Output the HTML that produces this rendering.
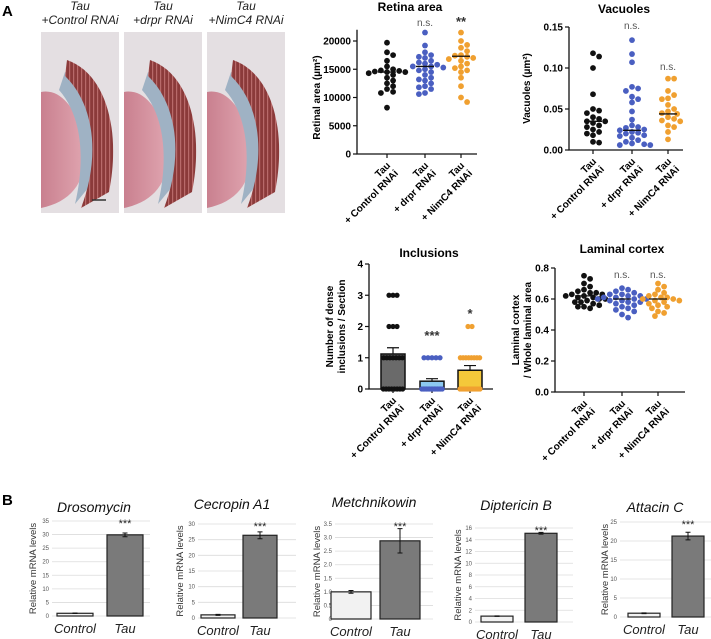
<!DOCTYPE html>
<html><head><meta charset="utf-8">
<style>
html,body{margin:0;padding:0;background:#fff;}
svg{display:block;font-family:"Liberation Sans",Arial,sans-serif;}
</style></head>
<body>
<svg id="fig" width="711" height="639" viewBox="0 0 711 639" xmlns="http://www.w3.org/2000/svg">
<defs>
<linearGradient id="pink" x1="0" x2="1"><stop offset="0" stop-color="#c9808f"/><stop offset="1" stop-color="#e0a5b0"/></linearGradient>
<pattern id="stripes" width="4" height="4" patternUnits="userSpaceOnUse"><rect width="4" height="4" fill="#8b3a3a"/><rect width="1.2" height="4" fill="#b86a6a"/></pattern>
</defs>
<text x="2" y="16" font-size="15" font-weight="bold">A</text>
<text x="2" y="505" font-size="15" font-weight="bold">B</text>
<g id="photos"></g>
<g id="charts"></g>
</svg>
<script>
// ---- data ----
const groupsA = ["Control RNAi", "drpr RNAi", "NimC4 RNAi"];
const colorsA = ["#111111", "#4a5fc1", "#f0a030"];
const retinaCtrl = [19700,18000,17500,16500,15500,15000,14800,14700,14600,14500,14500,14300,14000,13500,13000,12500,12000,11500,11000,10800,8200];
const retinaDrpr = [21500,19200,18000,17500,17200,17000,16500,16200,16000,15800,15500,15500,15300,15000,14800,14500,14000,13500,13200,13000,12500,12000,11800,11500,10800,10600];
const retinaNim = [21500,20000,19300,18800,18200,17500,17400,17200,17000,16800,16500,16000,15500,15200,14800,14500,13500,12000,10000,9200];
const retinaMed = [14500, 15500, 17300];
const retinaSig = ["", "n.s.", "**"];
const retinaTicks = [0,5000,10000,15000,20000];
const vacCtrl = [0.118,0.114,0.100,0.068,0.050,0.048,0.045,0.040,0.038,0.035,0.035,0.033,0.030,0.028,0.025,0.022,0.020,0.018,0.010,0.009];
const vacDrpr = [0.134,0.117,0.107,0.077,0.075,0.072,0.065,0.062,0.058,0.047,0.037,0.030,0.028,0.027,0.025,0.024,0.022,0.021,0.020,0.018,0.017,0.015,0.012,0.010,0.008,0.007,0.006,0.006];
const vacNim = [0.087,0.087,0.072,0.067,0.063,0.062,0.055,0.050,0.047,0.045,0.044,0.040,0.038,0.036,0.035,0.030,0.028,0.022,0.013];
const vacMed = [0.035, 0.024, 0.044];
const vacSig = ["", "n.s.", "n.s."];
const vacTicks = [0,0.05,0.10,0.15];
const vacTickLabels = ["0.00","0.05","0.10","0.15"];
const incCtrl = [3,3,3,2,2,2,1,1,1,1,1,1,1,0,0,0,0,0,0,0,0];
const incDrpr = [1,1,1,1,1,0,0,0,0,0,0,0,0,0,0,0,0,0,0];
const incNim = [2,2,1,1,1,1,1,1,1,1,0,0,0,0,0,0,0,0,0,0,0];
const incMean = [1.12, 0.25, 0.6];
const incSem = [0.2, 0.08, 0.15];
const incSig = ["", "***", "*"];
const incTicks = [0,1,2,3,4];
const incBarColors = ["#6a6a6a", "#8cc8f0", "#f4c83a"];
const lamCtrl = [0.75,0.73,0.70,0.68,0.66,0.65,0.64,0.64,0.63,0.63,0.62,0.62,0.61,0.61,0.60,0.60,0.59,0.58,0.58,0.57,0.56,0.55,0.55,0.54];
const lamDrpr = [0.67,0.66,0.65,0.64,0.63,0.63,0.62,0.62,0.61,0.61,0.60,0.60,0.60,0.59,0.59,0.58,0.58,0.57,0.56,0.55,0.54,0.53,0.52,0.50,0.48];
const lamNim = [0.70,0.68,0.66,0.64,0.63,0.62,0.61,0.61,0.60,0.60,0.59,0.59,0.58,0.57,0.56,0.55,0.54,0.52,0.51,0.49];
const lamMed = [0.62, 0.60, 0.60];
const lamSig = ["", "n.s.", "n.s."];
const lamTicks = [0,0.2,0.4,0.6,0.8];
const lamTickLabels = ["0.0","0.2","0.4","0.6","0.8"];
// panel B
const genes = ["Drosomycin","Cecropin A1","Metchnikowin","Diptericin B","Attacin C"];
const ctrlVals = [1.0, 1.0, 1.0, 1.0, 1.0];
const ctrlErr = [0.1, 0.15, 0.05, 0.05, 0.1];
const tauVals = [29.9, 26.4, 2.88, 15.1, 21.3];
const tauErr = [0.7, 1.1, 0.45, 0.15, 1.0];
const geneMax = [35, 30, 3.5, 16, 25];
const geneStep = [5, 5, 0.5, 2, 5];
const geneSig = ["***","***","***","***","***"];
const barLabels = ["Control","Tau"];

// ---- helpers ----
const NS = "http://www.w3.org/2000/svg";
function mk(tag, attrs, parent){ const e=document.createElementNS(NS,tag); for(const k in attrs) e.setAttribute(k,attrs[k]); parent.appendChild(e); return e; }
const charts = document.getElementById("charts");
const photos = document.getElementById("photos");

// ---- photos ----
const photoX = [41, 124, 207];
const photoTitles = ["+Control RNAi", "+drpr RNAi", "+NimC4 RNAi"];
photoX.forEach((x,i)=>{
  const g = mk("g",{transform:`translate(${x},32)`},photos);
  
  
  mk("rect",{x:0,y:0,width:78,height:181,fill:"#e4dfe2"},g);
  mk("path",{d:"M0,60 C25,55 42,90 44,120 C45,150 30,170 0,176 Z",fill:"url(#pink)"},g);
  mk("path",{d:"M24,40 C48,60 58,100 52,150 L34,172 C44,130 42,85 18,58 Z",fill:"#9fb2c4"},g);
  mk("path",{d:"M26,28 C66,42 80,100 68,160 L40,176 C58,130 56,75 24,44 Z",fill:"url(#stripes)"},g);
  const t1 = mk("text",{x:x+39,y:10,"text-anchor":"middle","font-size":12,"font-style":"italic",fill:"#222"},photos);
  t1.textContent="Tau";
  
  
  const t2 = mk("text",{x:x+39,y:24,"text-anchor":"middle","font-size":12,"font-style":"italic",fill:"#222"},photos);
  t2.textContent=photoTitles[i];
  
  
});
const sb = mk("line",{x1:92,y1:200,x2:106,y2:200,stroke:"#333","stroke-width":1.5},photos);



// ---- swarm ----
function swarm(vals, yf, r){
  const placed=[]; const out=[];
  vals.forEach(v=>{
    const y=yf(v); let off=0;
    for(let k=0;k<60;k++){
      const o = (k%2? 1:-1)*Math.ceil(k/2)*r*1.05;
      if(placed.every(p=>Math.hypot(p[0]-o,p[1]-y)>=2*r*0.95)){off=o;break;}
    }
    placed.push([off,y]); out.push([off,y]);
  });
  return out;
}

function chartA(cfg){
  const g = mk("g",{},charts);
  
  
  const yf = v => cfg.y0 - (v-cfg.min)/(cfg.max-cfg.min)*(cfg.y0-cfg.ytop);
  const t = mk("text",{x:cfg.tx,y:cfg.ty,"text-anchor":"middle","font-size":12,"font-weight":"bold"},g);
  t.textContent=cfg.title;
  
  
  const ax = mk("path",{d:`M${cfg.ax},${yf(cfg.axTop)} V${cfg.y0} H${cfg.axEnd}`,stroke:"#111","stroke-width":1.3,fill:"none"},g);
  
  
  cfg.ticks.forEach((v,i)=>{
    mk("line",{x1:cfg.ax-4,x2:cfg.ax,y1:yf(v),y2:yf(v),stroke:"#111","stroke-width":1.2},g);
    const tl = mk("text",{x:cfg.ax-6,y:yf(v)+3.5,"text-anchor":"end","font-size":10,"font-weight":"bold"},g);
    tl.textContent = cfg.tickLabels ? cfg.tickLabels[i] : String(v);
    
    
  });
  const yl = mk("text",{transform:`translate(${cfg.ylx},${(cfg.y0+cfg.ytop)/2}) rotate(-90)`,"text-anchor":"middle","font-size":10,"font-weight":"bold"},g);
  cfg.ylabel.forEach((ln,i)=>{ const ts=mk("tspan",{x:0,dy:i?12:0},yl); ts.textContent=ln; });
  
  
  cfg.series.forEach((vals,gi)=>{
    const cx = cfg.gx[gi];
    mk("line",{x1:cx,x2:cx,y1:cfg.y0,y2:cfg.y0+4,stroke:"#111","stroke-width":1.2},g);
    if(cfg.bars){
      const b = mk("rect",{x:cx-12,y:yf(cfg.bars[gi]),width:24,height:cfg.y0-yf(cfg.bars[gi]),fill:cfg.barColors[gi],stroke:"#111","stroke-width":1.5},g);
      
      
      const top=yf(cfg.bars[gi]+cfg.sem[gi]);
      mk("path",{d:`M${cx},${yf(cfg.bars[gi])} V${top} M${cx-6},${top} H${cx+6}`,stroke:"#111","stroke-width":1.2},g);
      const rows={}; vals.forEach(v=>{rows[v]=(rows[v]||0)+1;});
      Object.keys(rows).forEach(v=>{
        const n=rows[v];
        for(let k=0;k<n;k++){
          const off=(k-(n-1)/2)*Math.min(4,22/n);
          const d = mk("circle",{cx:cx+off,cy:yf(+v),r:2.6,fill:colorsA[gi]},g);
          
          
        }
      });
    } else {
      swarm(vals,yf,2.9).forEach(p=>{
        const d = mk("circle",{cx:cx+p[0],cy:p[1],r:2.9,fill:colorsA[gi]},g);
        
        
      });
      const ml = mk("line",{x1:cx-9,x2:cx+9,y1:yf(cfg.med[gi]),y2:yf(cfg.med[gi]),stroke:"#111","stroke-width":1.3},g);
      
      
    }
    if(cfg.sig[gi]){
      const s = mk("text",{x:cx,y:cfg.sigY[gi],"text-anchor":"middle","font-size":cfg.sig[gi]==="n.s."?10:13,fill:cfg.sig[gi]==="n.s."?"#555":"#333","font-weight":cfg.sig[gi]==="n.s."?"normal":"bold"},g);
      s.textContent=cfg.sig[gi];
      
      
    }
    const xl = mk("text",{transform:`translate(${cx+4},${cfg.y0+12}) rotate(-45)`,"text-anchor":"end","font-size":10,"font-weight":"bold"},g);
    const a=mk("tspan",{x:0,y:0},xl); a.textContent="Tau";
    const b2=mk("tspan",{x:0,y:11},xl); b2.textContent="+ "+groupsA[gi];
    
    
  });
}

chartA({name:"retina-area-chart",title:"Retina area",tx:410,ty:11,ax:357,axTop:22000,axEnd:477,y0:154,ytop:41,min:0,max:20000,
  ticks:retinaTicks,ylabel:["Retinal area (µm²)"],ylx:320,gx:[387,425,461],series:[retinaCtrl,retinaDrpr,retinaNim],med:retinaMed,sig:retinaSig,sigY:[0,26,26]});
chartA({name:"vacuoles-chart",title:"Vacuoles",tx:624,ty:13,ax:569,axTop:0.15,axEnd:683,y0:150,ytop:27,min:0,max:0.15,
  ticks:vacTicks,tickLabels:vacTickLabels,ylabel:["Vacuoles (µm²)"],ylx:530,gx:[593,632,668],series:[vacCtrl,vacDrpr,vacNim],med:vacMed,sig:vacSig,sigY:[0,29,70]});
chartA({name:"inclusions-chart",title:"Inclusions",tx:429,ty:257,ax:369,axTop:4,axEnd:493,y0:389,ytop:264,min:0,max:4,
  ticks:incTicks,ylabel:["Number of dense","inclusions / Section"],ylx:333,gx:[393,432,470],series:[incCtrl,incDrpr,incNim],bars:incMean,sem:incSem,barColors:incBarColors,sig:incSig,sigY:[0,340,318]});
chartA({name:"laminal-cortex-chart",title:"Laminal cortex",tx:622,ty:253,ax:555,axTop:0.8,axEnd:685,y0:392,ytop:268,min:0,max:0.8,
  ticks:lamTicks,tickLabels:lamTickLabels,ylabel:["Laminal cortex","/ Whole laminal area"],ylx:519,gx:[584,622,658],series:[lamCtrl,lamDrpr,lamNim],med:lamMed,sig:lamSig,sigY:[0,278,278]});

// ---- panel B (layout) ----
const bAx = [49, 195, 332, 472, 617];
const bY0 = [616, 618, 619, 622, 617];
const bTop = [521, 524, 524, 528, 522];
const bCx = [[75,125],[218,260],[351,400],[497,541],[644,688]];
const bW = [36, 34, 40, 32, 32];
const bTitleX = [94, 232, 374, 516, 655];
const bTitleY = [512, 509, 507, 510, 512];
const bYlx = [33, 180, 317, 458, 605];
genes.forEach((gname,i)=>{
  const g = mk("g",{},charts);
  
  
  const yf = v => bY0[i] - v/geneMax[i]*(bY0[i]-bTop[i]);
  for(let v=0; v<=geneMax[i]+1e-9; v+=geneStep[i]){
    const gl = mk("line",{x1:bAx[i]+3,x2:bAx[i]+101,y1:yf(v),y2:yf(v),stroke:"#dcdcdc","stroke-width":0.8},g);
    
    
    const tl = mk("text",{x:bAx[i],y:yf(v)+2,"text-anchor":"end","font-size":6,fill:"#555"},g);
    tl.textContent = geneStep[i]<1 ? (v===0?"0":v.toFixed(1)) : String(Math.round(v));
    
    
  }
  const t = mk("text",{x:bTitleX[i],y:bTitleY[i],"text-anchor":"middle","font-size":14,"font-style":"italic",fill:"#111"},g);
  t.textContent=gname;
  
  
  const yl = mk("text",{transform:`translate(${bYlx[i]+3},${(bY0[i]+bTop[i])/2}) rotate(-90)`,"text-anchor":"middle","font-size":9.5,fill:"#333"},g);
  yl.textContent="Relative mRNA levels";
  
  
  [ctrlVals[i],tauVals[i]].forEach((v,j)=>{
    const cx=bCx[i][j]; const err=[ctrlErr[i],tauErr[i]][j];
    const b = mk("rect",{x:cx-bW[i]/2,y:yf(v),width:bW[i],height:bY0[i]-yf(v),fill:j?"#7a7a7a":"#f2f2f2",stroke:"#222","stroke-width":1.2},g);
    
    
    const eb = mk("path",{d:`M${cx},${yf(v+err)} V${yf(v-err)} M${cx-2.5},${yf(v+err)} H${cx+2.5} M${cx-2.5},${yf(v-err)} H${cx+2.5}`,stroke:"#111","stroke-width":1},g);
    
    
    const xl = mk("text",{x:cx,y:bY0[i]+17,"text-anchor":"middle","font-size":13,"font-style":"italic",fill:"#222"},g);
    xl.textContent=barLabels[j];
    
    
  });
  const s = mk("text",{x:bCx[i][1],y:bTop[i]+6,"text-anchor":"middle","font-size":11,fill:"#222"},g);
  s.textContent=geneSig[i];
  
  
});
</script>
</body></html>
